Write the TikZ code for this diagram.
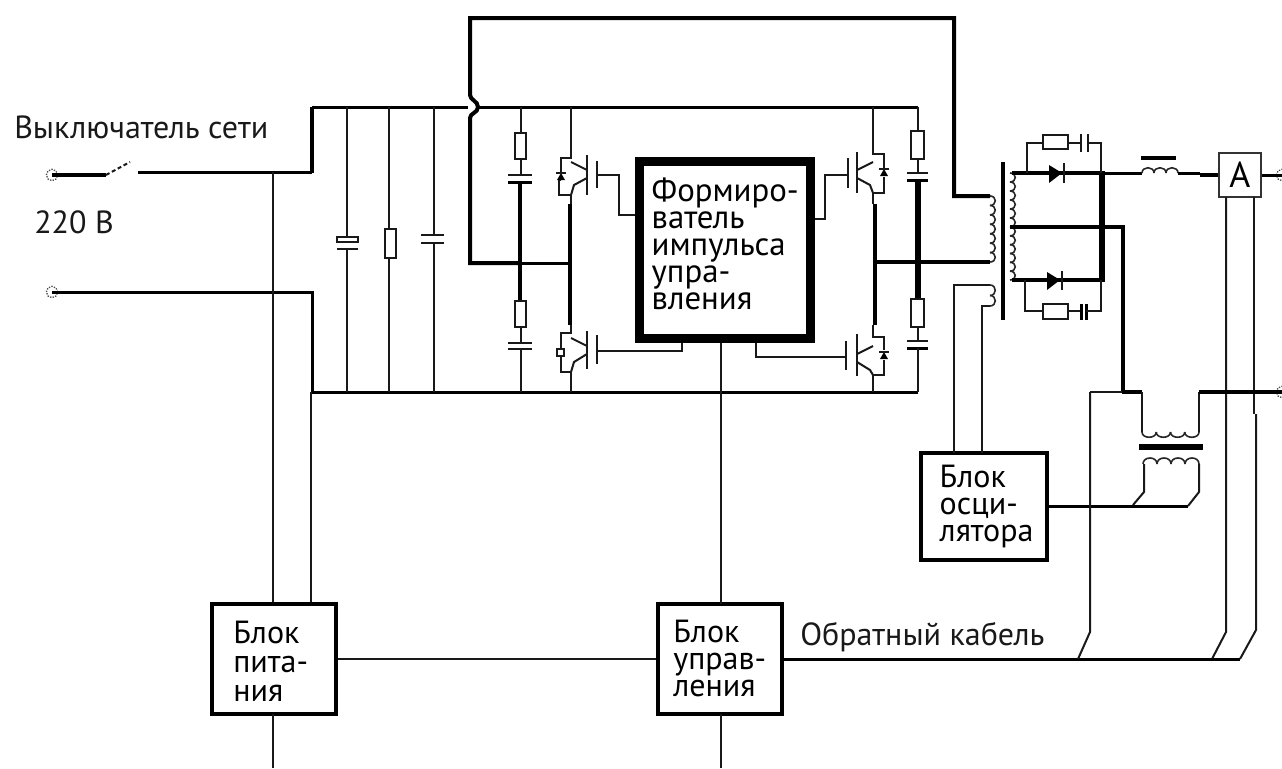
\documentclass[tikz,border=0pt]{standalone}
\usepackage{fontspec}
\setmainfont{PT Sans}
\newcommand{\vcoil}[5]{% x, y1, y2, n, bulge
  \pgfmathsetmacro{\hh}{(#3-#2)/#4}
  \foreach \ii in {1,...,#4}{
    \pgfmathsetmacro{\ya}{#2+(\ii-1)*\hh}
    \pgfmathsetmacro{\yb}{#2+\ii*\hh}
    \draw[cl] (#1,\ya) .. controls (#1+#5,\ya) and (#1+#5,\yb) .. (#1,\yb);
  }}
\newcommand{\hcoil}[5]{% y, x1, x2, n, bulge
  \pgfmathsetmacro{\hh}{(#3-#2)/#4}
  \foreach \ii in {1,...,#4}{
    \pgfmathsetmacro{\xa}{#2+(\ii-1)*\hh}
    \pgfmathsetmacro{\xb}{#2+\ii*\hh}
    \draw[cl] (\xa,#1) .. controls (\xa,#1+#5) and (\xb,#1+#5) .. (\xb,#1);
  }}
\newcommand{\resbox}[4]{\draw[ln,fill=white] (#1,#2) rectangle (#3,#4);}
\newcommand{\smalld}[2]{% small diode in transistor bracket, centre x, y
  \fill (#1-4,#2+3) -- (#1+4,#2+3) -- (#1,#2-4) -- cycle;
  \draw[ln] (#1-5,#2-4) -- (#1+5,#2-4);}
% block text: total width, indent, lift, font size, line pitch, lines
\newcommand{\blk}[6]{\raisebox{#3}[0pt][0pt]{\makebox[#1][l]{\fontsize{#4}{#5}\selectfont\begin{tabular}{@{\hspace{#2}}l@{}}#6\end{tabular}}}}
\tikzset{
  ln/.style={line width=1.5pt,black!90},
  cl/.style={line width=1.2pt,black!85},
  med/.style={line width=2.25pt,black},
  hvy/.style={line width=3pt,black},
  xhvy/.style={line width=4.5pt,black},
  block/.style={draw=black,line width=3pt,fill=white,minimum width=#1,inner sep=0pt},
  lab/.style={font=\fontsize{24}{24}\selectfont,text=black!90,inner sep=0pt,anchor=west},
  term/.style={circle,draw=black!70,line width=1pt,densely dotted,fill=white,minimum size=8.5pt,inner sep=0pt}
}
\begin{document}
\begin{tikzpicture}[x=0.75pt,y=-0.75pt]
\useasboundingbox (0,0) rectangle (1282,768);

% ---- blocks
\node[block=93pt,minimum height=82.5pt] (pw) at (274,659) {\blk{93pt}{16pt}{-11.5pt}{24}{21.75}{Блок\\пита-\\ния}};
\node[block=93pt,minimum height=82.5pt] (ctl) at (720,659) {\blk{93pt}{11.5pt}{-9pt}{24}{20.3}{Блок\\управ-\\ления}};
\node[block=94.5pt,minimum height=80pt] (osc) at (984,506.5) {\blk{94.5pt}{14pt}{-7pt}{24}{20.3}{Блок\\осци-\\лятора}};
\node[draw=black,line width=6.75pt,fill=white,minimum width=128pt,minimum height=132.5pt,inner sep=0pt] (drv) at (725,250) {\blk{128pt}{9pt}{-4.5pt}{24.6}{20.3}{Формиро-\\ватель\\импульса\\упра-\\вления}};
\node[draw=black!80,line width=1.5pt,fill=white,minimum width=31.5pt,minimum height=33pt,inner sep=0pt,font=\fontsize{27}{27}\selectfont] (amp) at (1240,175) {А};

% ---- named points
\coordinate (tA) at (52,175);
\coordinate (tB) at (52,292);
\coordinate (tC) at (1282,175);
\coordinate (tD) at (1282,392);
\node[term] (nA) at (tA) {};
\node[term] (nB) at (tB) {};
\node[term] (nC) at (tC) {};
\node[term] (nD) at (tD) {};

% ---- mains
\draw[hvy] (tA) -- (106,175);
\draw[ln,densely dashed] (106,175) -- (130,162);
\draw[med] (138,172) -- (312,172);
\draw[hvy] (312,173) -- (312,107);
\draw[med] (312,107) -- (468,107);
\draw[med] (478,107) -- (918,107);
\draw[med] (tB) -- (312,292);
\draw[med] (312,290.9) -- (312,392) -- (918,392);

% ---- top loop with jump over the rail
\draw[hvy,line join=miter] (521,263) -- (470,263) -- (470,118) .. controls (470,113) and (478,113) .. (478,107) .. controls (478,101) and (470,100) .. (470,95) -- (470,18) -- (954,18) -- (954,196) -- (990,196);

% ---- supply branches
\draw[ln] (273,172) -- (273,172 |- pw.north);
\draw[ln] (311,392) -- (311,392 |- pw.north);
\draw[ln] (273,714) -- (273,768);
\draw[ln] (pw.east) -- (ctl.west);
\draw[ln] (721,343) -- (721,604);
\draw[ln] (721,714) -- (721,768);

% ---- input filter
\draw[ln] (347,107) -- (347,238);
\draw[ln,fill=white] (337,237) rectangle (358,242);
\draw[ln] (337,249) -- (358,249);
\draw[ln] (347,249) -- (347,392);
\draw[ln] (389,107) -- (389,392);
\resbox{385}{229}{396}{258}
\draw[ln] (434,107) -- (434,235);
\draw[ln] (421,235) -- (444,235);
\draw[ln] (421,243) -- (444,243);
\draw[ln] (434,243) -- (434,392);

% ---- left RC
\draw[ln] (521,107) -- (521,175);
\resbox{515}{133}{526}{159}
\draw[ln] (508,175) -- (532,175);
\draw[med] (508,182) -- (532,182);
\draw[hvy] (520,182) -- (520,301);
\draw[ln] (521,327) -- (521,343);
\resbox{515}{301}{526}{327}
\draw[ln] (508,343) -- (532,343);
\draw[ln] (508,349) -- (532,349);
\draw[ln] (521,349) -- (521,392);
\draw[med] (521,263) -- (570,263);

% ---- left IGBTs
\draw[ln] (571,107) -- (571,158) -- (561,158) -- (561,172);
\draw[ln] (561,180) -- (559,180) -- (559,195) -- (571,195) -- (571,204);
\smalld{561}{177}
\draw[ln] (571,162) -- (587,170);
\draw[ln] (587,178) -- (574,185) -- (571,195);
\draw[ln] (587,155) -- (587,195);
\draw[ln] (597,161) -- (597,188);
\draw[ln] (597,175) -- (619,175) -- (619,215) -- (635,215);
\draw[hvy] (570,204) -- (570,325);
\draw[ln] (571,325) -- (571,333) -- (561,333) -- (561,348);
\draw[ln,fill=white] (557,349) rectangle (564,356);
\draw[ln] (561,356) -- (561,372) -- (571,372) -- (571,392);
\draw[ln] (571,338) -- (587,346);
\draw[ln] (587,354) -- (574,362) -- (571,372);
\draw[ln] (587,331) -- (587,369);
\draw[ln] (597,335) -- (597,364);
\draw[ln] (597,351) -- (682,351) -- (682,343);

% ---- right IGBTs
\draw[ln] (873,107) -- (873,154) -- (884,154) -- (884,168);
\smalld{884}{173}
\draw[ln] (884,177) -- (884,193) -- (873,193) -- (873,204);
\draw[ln] (873,162) -- (857,170);
\draw[ln] (857,178) -- (870,185) -- (873,193);
\draw[ln] (857,152) -- (857,193);
\draw[ln] (848,158) -- (848,188);
\draw[ln] (848,175) -- (825,175) -- (825,219) -- (815,219);
\draw[hvy] (874.5,204) -- (874.5,325);
\draw[ln] (873,325) -- (873,337) -- (884,337) -- (884,350);
\smalld{884}{356}
\draw[ln] (884,360) -- (884,375) -- (873,375) -- (873,392);
\draw[ln] (873,346) -- (857,354);
\draw[ln] (857,362) -- (870,370) -- (873,375);
\draw[ln] (857,334) -- (857,376);
\draw[ln] (845.5,341) -- (845.5,370);
\draw[ln] (845.5,357) -- (756,357) -- (756,343);

% ---- right RC
\draw[ln] (918,107) -- (918,173);
\resbox{911}{131}{924}{159}
\draw[ln] (907,173) -- (928,173);
\draw[med] (907,180) -- (928,180);
\draw[xhvy] (918,180) -- (918,299);
\resbox{911}{299}{924}{327}
\draw[ln] (918,327) -- (918,341);
\draw[ln] (907,341) -- (928,341);
\draw[med] (907,348) -- (928,348);
\draw[ln] (918,348) -- (918,392);
\draw[hvy] (875,262) -- (990,262);

% ---- transformer
\draw[hvy] (1002.5,162) -- (1002.5,320);
\vcoil{990}{196}{262}{7}{7}
\vcoil{990}{285}{306}{2}{7}
\draw[ln] (990,285) -- (954,285) -- (954,453);
\draw[ln] (990,306) -- (982,306) -- (982,453);
\vcoil{1010}{173}{227}{6}{7}
\vcoil{1010}{227}{280}{6}{7}

% ---- rectifier
\draw[hvy] (1012,173) -- (1102,173);
\draw[med] (1102,173) -- (1142,173);
\fill (1049,165) -- (1049,183) -- (1062,173) -- cycle;
\draw[ln] (1064,163) -- (1064,183);
\draw[hvy] (1012,280) -- (1102,280);
\fill (1047,272) -- (1047,290) -- (1060,280) -- cycle;
\draw[ln] (1062,271) -- (1062,290);
\draw[xhvy] (1102,171) -- (1102,282);
\draw[hvy] (1010,227) -- (1123,227) -- (1123,392);
\draw[ln] (1027,173) -- (1027,143) -- (1043,143);
\resbox{1043}{135}{1068}{149}
\draw[ln] (1068,143) -- (1081,143);
\draw[ln] (1081,134) -- (1081,152);
\draw[ln] (1088,134) -- (1088,152);
\draw[ln] (1088,143) -- (1101,143) -- (1101,173);
\draw[ln] (1025,280) -- (1025,311) -- (1043,311);
\resbox{1043}{304}{1068}{319}
\draw[ln] (1068,311) -- (1080,311);
\draw[med] (1081,304) -- (1081,320);
\draw[med] (1086,304) -- (1086,320);
\draw[ln] (1086,311) -- (1101,311) -- (1101,280);

% ---- choke and output
\hcoil{173}{1142}{1178}{3}{-7}
\draw[hvy] (1141,158) -- (1176,158);
\draw[med] (1178,173) -- (1200,173);
\draw[hvy] (1200,175) -- (amp.west);
\draw[med] (amp.east) -- (tC);
\draw[ln] (1226,197) -- (1226,632) -- (1212,659);
\draw[ln] (1254,197) -- (1254,414);
\draw[ln] (1256,414) -- (1256,630) -- (1240,659);

% ---- lower transformer
\draw[ln] (1090,392) -- (1122,392);
\draw[hvy] (1122,392) -- (1142,392);
\draw[ln] (1142,392) -- (1142,432);
\hcoil{432}{1142}{1199}{4}{7}
\draw[ln] (1199,432) -- (1199,392);
\draw[hvy] (1199,392) -- (tD);
\draw[xhvy] (1139,447) -- (1203,447);
\hcoil{464}{1143}{1199}{4}{-8}
\draw[ln] (1144,464) -- (1144,492) -- (1133,505);
\draw[ln] (1199,464) -- (1199,492) -- (1188,506);
\draw[med] (osc.east |- 0,506) -- (1188,506);

% ---- feedback cable
\draw[med] (ctl.east) -- (1240,659);
\draw[ln] (1078,659) -- (1090,632) -- (1090,392);

% ---- labels
\node[lab] (l1) at (14,127) {Выключатель сети};
\node[lab] (l2) at (34,222) {220 В};
\node[lab] (l3) at (800,637) {Обратный кабель};
\end{tikzpicture}
\end{document}
